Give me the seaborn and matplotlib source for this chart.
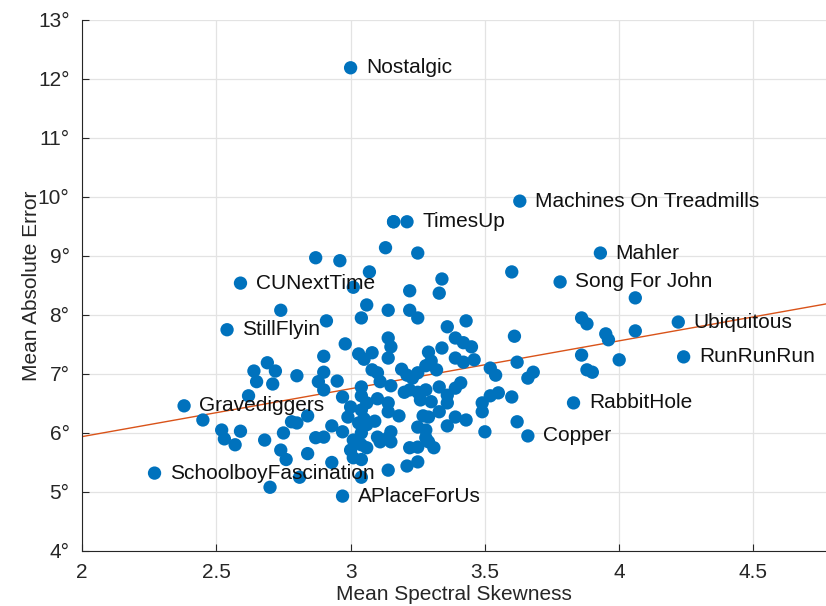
import numpy as np
import pandas as pd
import matplotlib
matplotlib.use("Agg")
import matplotlib.pyplot as plt
from matplotlib.ticker import FuncFormatter
import seaborn as sns

# Labeled songs
label_names = ["Nostalgic", "Machines On Treadmills", "TimesUp", "Mahler", "Song For John",
               "CUNextTime", "StillFlyin", "Ubiquitous", "RunRunRun", "RabbitHole",
               "Copper", "Gravediggers", "SchoolboyFascination", "APlaceForUs"]
label_x = [3.00, 3.63, 3.21, 3.93, 3.78, 2.59, 2.54, 4.22, 4.24, 3.83, 3.66, 2.38, 2.27, 2.97]
label_y = [12.19, 9.93, 9.58, 9.05, 8.56, 8.54, 7.75, 7.88, 7.29, 6.51, 5.95, 6.46, 5.32, 4.93]

# Remaining songs
other_x = [2.45, 2.52, 2.53, 2.57, 2.59, 2.62, 2.64, 2.65, 2.69, 2.71, 2.72, 2.68, 2.70, 2.74,
           2.76, 2.75, 2.74, 2.80, 2.78, 2.80, 2.81, 2.84, 2.84, 2.87, 2.88, 2.87, 2.90, 2.90,
           2.90, 2.90, 2.91, 2.93, 2.93, 2.95, 2.96, 2.97, 2.97, 2.98, 2.99, 3.00, 3.00, 3.01,
           3.01, 3.01, 3.03, 3.03, 3.04, 3.04, 3.04, 3.04, 3.04, 3.04, 3.04, 3.04, 3.05, 3.05,
           3.06, 3.06, 3.06, 3.06, 3.07, 3.08, 3.08, 3.09, 3.10, 3.10, 3.10, 3.11, 3.11, 3.13,
           3.14, 3.14, 3.14, 3.14, 3.14, 3.14, 3.14, 3.15, 3.15, 3.15, 3.15, 3.16, 3.18, 3.19,
           3.20, 3.21, 3.21, 3.22, 3.22, 3.22, 3.22, 3.23, 3.25, 3.25, 3.25, 3.25, 3.25, 3.25,
           3.25, 3.26, 3.27, 3.28, 3.28, 3.28, 3.28, 3.29, 3.29, 3.29, 3.30, 3.30, 3.31, 3.32,
           3.33, 3.33, 3.33, 3.34, 3.34, 3.36, 3.36, 3.36, 3.36, 3.39, 3.39, 3.39, 3.39, 3.41,
           3.42, 3.42, 3.43, 3.43, 3.45, 3.46, 3.49, 3.49, 3.50, 3.52, 3.52, 3.54, 3.55, 3.60,
           3.60, 3.61, 3.62, 3.62, 3.66, 3.68, 3.86, 3.88, 3.86, 3.88, 3.90, 3.95, 3.96, 4.00,
           4.06, 4.06, 3.16]
other_y = [6.22, 6.05, 5.90, 5.80, 6.03, 6.63, 7.05, 6.87, 7.19, 6.83, 7.05, 5.88, 5.08, 5.71,
           5.55, 6.00, 8.08, 6.97, 6.19, 6.17, 5.25, 6.29, 5.65, 8.97, 6.87, 5.92, 5.93, 7.30,
           7.03, 6.73, 7.90, 5.50, 6.12, 6.88, 8.92, 6.61, 6.02, 7.51, 6.27, 6.44, 5.71, 5.58,
           5.88, 8.47, 7.34, 6.17, 7.95, 6.63, 6.78, 6.39, 6.00, 5.80, 5.55, 5.25, 7.25, 6.24,
           5.75, 6.51, 6.14, 8.17, 8.73, 7.36, 7.07, 6.20, 7.02, 5.93, 6.58, 6.87, 5.85, 9.14,
           8.08, 7.61, 6.36, 5.92, 5.37, 7.27, 6.51, 5.85, 7.46, 6.80, 6.02, 9.58, 6.29, 7.08,
           6.69, 6.98, 5.44, 8.41, 8.08, 5.75, 6.73, 6.93, 9.05, 6.10, 5.51, 7.95, 7.02, 6.69,
           5.76, 6.56, 6.29, 6.05, 7.14, 5.92, 6.73, 7.37, 6.27, 5.85, 7.22, 6.53, 5.75, 7.07,
           6.78, 6.36, 8.37, 8.61, 7.44, 6.64, 6.51, 6.12, 7.80, 6.76, 7.27, 7.61, 6.27, 6.85,
           7.53, 7.20, 7.90, 6.22, 7.46, 7.24, 6.51, 6.36, 6.02, 7.10, 6.63, 6.98, 6.68, 6.61,
           8.73, 7.64, 6.19, 7.20, 6.93, 7.03, 7.95, 7.85, 7.32, 7.07, 7.03, 7.68, 7.58, 7.24,
           8.29, 7.73, 9.58]

x_ticks = [2, 2.5, 3, 3.5, 4, 4.5]
y_ticks = [4, 5, 6, 7, 8, 9, 10, 11, 12, 13]

df = pd.DataFrame({
    "skew": list(label_x) + list(other_x),
    "mae": list(label_y) + list(other_y),
})

sns.set_theme(style="white")
plt.rcParams["font.family"] = ["Liberation Sans", "DejaVu Sans"]

fig = plt.figure(figsize=(8.26, 6.06), dpi=100)
ax = fig.add_axes([0.0993, 0.0908, 0.9007, 0.8762])
ax.set_xlim(2, 4.77)
ax.set_ylim(4, 13)

blue = "#0072BD"
orange = "#D95319"

sns.regplot(data=df, x="skew", y="mae", ax=ax, scatter=False, ci=None, truncate=False,
            line_kws=dict(color=orange, lw=1.0, zorder=2))
sns.scatterplot(data=df, x="skew", y="mae", ax=ax, color=blue, s=92, edgecolor="none",
                linewidth=0, zorder=3)

for name, xv, yv in zip(label_names, label_x, label_y):
    ax.annotate(name, (xv, yv), xytext=(11, 0), textcoords="offset points",
                va="center", ha="left", fontsize=15, color="#111111", zorder=4)

ax.set_xticks(x_ticks)
ax.set_yticks(y_ticks)
ax.xaxis.set_major_formatter(FuncFormatter(lambda v, p: f"{v:g}"))
ax.yaxis.set_major_formatter(FuncFormatter(lambda v, p: f"{int(round(v))}°"))
ax.set_xlim(2, 4.77)
ax.set_ylim(4, 13)

ax.grid(True, color="#e3e3e3", lw=0.9)
ax.set_axisbelow(True)
for side in ["top", "right"]:
    ax.spines[side].set_visible(False)
for side in ["left", "bottom"]:
    ax.spines[side].set_color("#262626")
    ax.spines[side].set_linewidth(0.8)
ax.tick_params(direction="in", length=5, width=0.8, colors="#262626",
               labelsize=15, labelcolor="#262626", left=True, bottom=True)
ax.tick_params(axis="x", pad=9)
ax.tick_params(axis="y", pad=9)
ax.set_xlabel("Mean Spectral Skewness", fontsize=15, color="#262626", labelpad=2)
ax.set_ylabel("Mean Absolute Error", fontsize=15, color="#262626", labelpad=-2)

fig.savefig("out.png", dpi=100)
